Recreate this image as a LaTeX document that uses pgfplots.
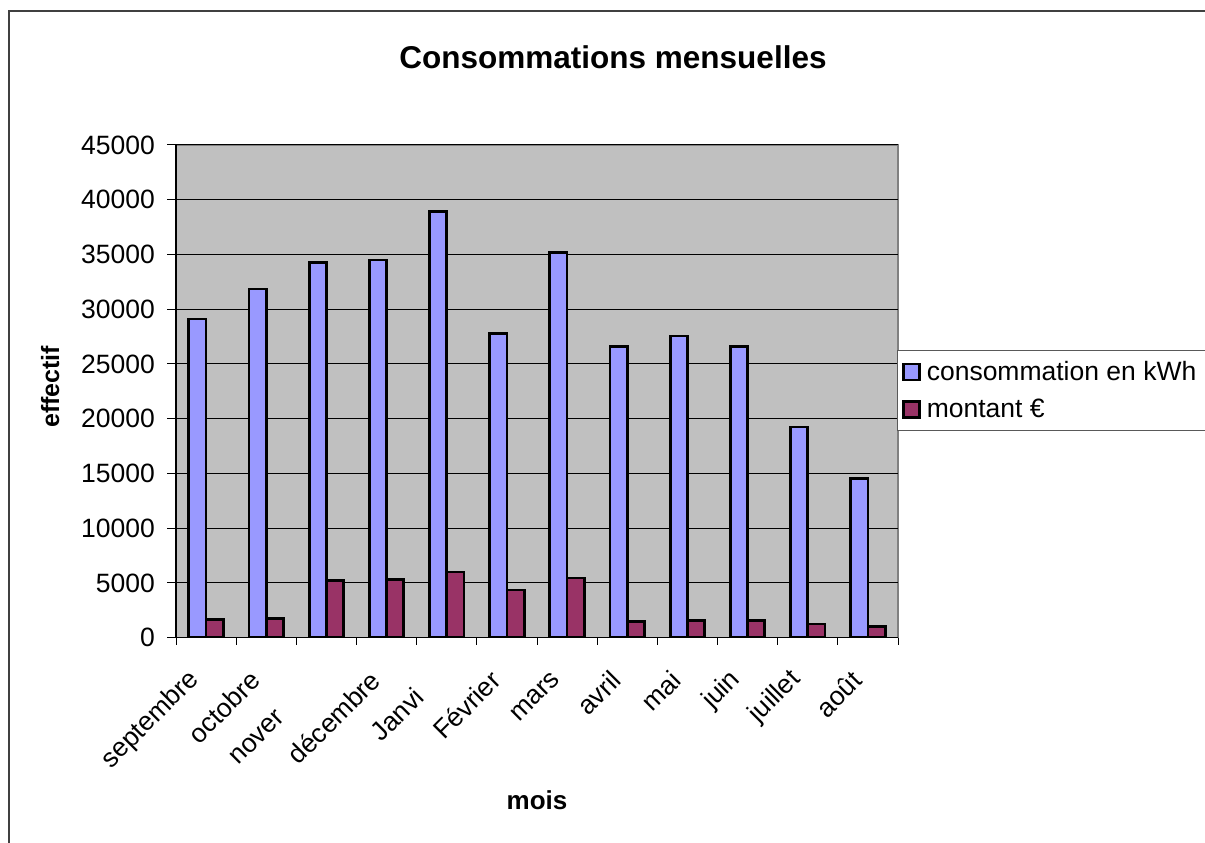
\documentclass[border=0pt]{standalone}
\usepackage{fontspec}
\setmainfont{Liberation Sans}
\usepackage{pgfplots}
\pgfplotsset{compat=1.18}

\definecolor{plotbg}{HTML}{C0C0C0}
\definecolor{kwh}{HTML}{9999FF}
\definecolor{eur}{HTML}{993366}
\definecolor{frame}{HTML}{404040}

\begin{document}
\begin{tikzpicture}
\useasboundingbox (0,0) rectangle (1205bp,843bp);
\clip (0,0) rectangle (1205bp,843bp);
% cadre du graphique (coupe a droite et en bas)
\draw[frame, line width=2bp] (9bp,-20bp) -- (9bp,831.5bp) -- (1230bp,831.5bp);

\begin{axis}[
    at={(176bp,205.3bp)}, anchor=south west,
    width=722bp, height=492.7bp, scale only axis,
    ybar=0pt, bar width=17.2bp,
    xmin=-0.5, xmax=11.5, ymin=0, ymax=45000,
    enlargelimits=false,
    xtick={0,...,11},
    xticklabels={septembre,octobre,\rlap{nover}\phantom{novembre},d\'ecembre,\rlap{Janvi}\phantom{Janvier},F\'evrier,mars,avril,mai,juin,juillet,ao\^ut},
    minor xtick={-0.5,0.5,...,11.5},
    ytick={0,5000,...,45000},
    scaled y ticks=false,
    /pgf/number format/.cd, 1000 sep={}, assume math mode=true, /pgfplots/.cd,
    tick align=outside,
    major tick length=9bp, minor tick length=7bp,
    major x tick style={draw=none},
    tick style={black, line width=1bp},
    axis x line*=bottom, axis y line*=left,
    axis line style={black, line width=1.5bp},
    axis background/.style={fill=plotbg, draw=gray, line width=1.5bp},
    ymajorgrids, grid style={black, line width=1bp},
    tick label style={font=\fontsize{26.5bp}{31bp}\selectfont},
    yticklabel style={inner sep=0pt, anchor=east, xshift=-12bp},
    xticklabel style={inner sep=0pt, xshift=-11bp, yshift=-29bp, rotate=45, anchor=east},
    title={Consommations mensuelles},
    title style={font=\fontsize{31.5bp}{37bp}\selectfont\bfseries, at={(0.6053,1.165)}, anchor=center},
    xlabel={mois},
    xlabel style={font=\fontsize{26bp}{31bp}\selectfont\bfseries, at={(0.5,-0.349)}, anchor=base},
    ylabel={effectif},
    ylabel style={font=\fontsize{25bp}{31bp}\selectfont\bfseries, at={(-0.162,0.509)}, anchor=base},
    legend style={at={(0.9986,0.5845)}, anchor=north west,
        draw=gray!70!black, line width=1bp, fill=white,
        font=\fontsize{26.5bp}{31bp}\selectfont,
        inner xsep=5bp, inner ysep=9bp, row sep=12bp,
        nodes={inner sep=2.5bp}},
    legend cell align=left,
    legend image code/.code={\draw[#1, line width=2.8bp] (0bp,-8bp) rectangle (16bp,8bp);},
]

% consommation en kWh
\addplot[fill=kwh, draw=black, line width=2.8bp] coordinates {
    (0,29100) (1,31850) (2,34250) (3,34500) (4,38950) (5,27750)
    (6,35150) (7,26600) (8,27550) (9,26600) (10,19250) (11,14550)
};
\addlegendentry{\makebox[290bp][l]{\hspace{3bp}consommation en kWh}}

% montant en euros
\addplot[fill=eur, draw=black, line width=2.8bp] coordinates {
    (0,1650) (1,1750) (2,5250) (3,5300) (4,6000) (5,4350)
    (6,5450) (7,1500) (8,1550) (9,1550) (10,1250) (11,1050)
};
\addlegendentry{\makebox[290bp][l]{\hspace{3bp}montant €}}

\end{axis}
\end{tikzpicture}
\end{document}
